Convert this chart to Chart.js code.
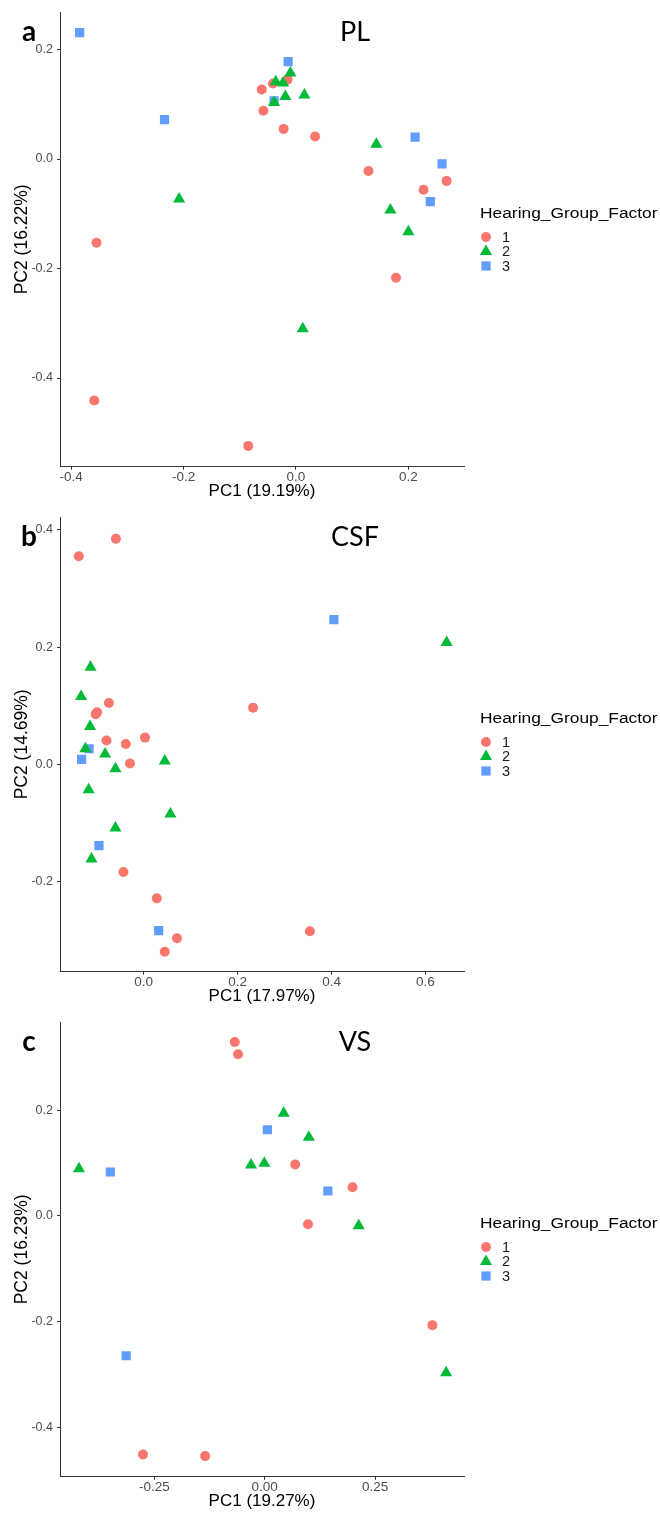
<!DOCTYPE html>
<html><head><meta charset="utf-8">
<script src="https://cdn.jsdelivr.net/npm/chart.js@4"></script>
<style>
html,body{margin:0;padding:0;background:#fff;overflow:hidden;width:660px;height:1513px;position:relative;}
.panel{position:absolute;left:0;width:660px;height:505px;}
canvas{display:block;}
</style></head><body>
<div class="panel" style="top:0px"><canvas id="cA" width="660" height="505"></canvas></div>
<div class="panel" style="top:505px"><canvas id="cB" width="660" height="505"></canvas></div>
<div class="panel" style="top:1010px"><canvas id="cC" width="660" height="505"></canvas></div>
<script>
// ---------- DATA ----------
const groupLabels = ['1', '2', '3'];
const legendTitle = 'Hearing_Group_Factor';

// Panel a: PL
const PL_g1_pc1 = [-0.061, -0.041, -0.015, -0.058, -0.022, 0.034, 0.129, 0.227, 0.268, -0.355, 0.178, -0.359, -0.085];
const PL_g1_pc2 = [0.127, 0.138, 0.145, 0.088, 0.055, 0.041, -0.022, -0.056, -0.040, -0.153, -0.217, -0.441, -0.524];
const PL_g2_pc1 = [-0.010, -0.036, -0.023, -0.019, 0.015, -0.039, 0.143, -0.208, 0.168, 0.200, 0.012];
const PL_g2_pc2 = [0.157, 0.141, 0.139, 0.114, 0.117, 0.103, 0.027, -0.073, -0.093, -0.133, -0.310];
const PL_g3_pc1 = [-0.385, -0.234, -0.014, -0.039, 0.212, 0.260, 0.239];
const PL_g3_pc2 = [0.231, 0.072, 0.178, 0.106, 0.040, -0.009, -0.078];
const PL_xTicks = [-0.4, -0.2, 0.0, 0.2];
const PL_xTickLabels = ['-0.4', '-0.2', '0.0', '0.2'];
const PL_yTicks = [-0.4, -0.2, 0.0, 0.2];
const PL_yTickLabels = ['-0.4', '-0.2', '0.0', '0.2'];

// Panel b: CSF
const CSF_g1_pc1 = [-0.138, -0.059, 0.233, -0.074, -0.102, -0.099, -0.079, -0.038, 0.003, -0.029, -0.043, 0.028, 0.071, 0.045, 0.354];
const CSF_g1_pc2 = [0.355, 0.385, 0.097, 0.105, 0.086, 0.089, 0.041, 0.035, 0.046, 0.002, -0.183, -0.228, -0.296, -0.319, -0.284];
const CSF_g2_pc1 = [-0.113, -0.133, -0.114, -0.124, -0.082, 0.045, -0.060, -0.117, 0.057, -0.060, -0.111, 0.645];
const CSF_g2_pc2 = [0.166, 0.116, 0.065, 0.027, 0.018, 0.006, -0.007, -0.043, -0.084, -0.108, -0.161, 0.208];
const CSF_g3_pc1 = [0.405, -0.116, -0.132, -0.095, 0.032];
const CSF_g3_pc2 = [0.247, 0.027, 0.009, -0.138, -0.283];
const CSF_xTicks = [0.0, 0.2, 0.4, 0.6];
const CSF_xTickLabels = ['0.0', '0.2', '0.4', '0.6'];
const CSF_yTicks = [-0.2, 0.0, 0.2, 0.4];
const CSF_yTickLabels = ['-0.2', '0.0', '0.2', '0.4'];

// Panel c: VS
const VS_g1_pc1 = [-0.068, -0.0605, 0.069, 0.199, 0.098, 0.380, -0.276, -0.135];
const VS_g1_pc2 = [0.329, 0.306, 0.097, 0.054, -0.016, -0.207, -0.452, -0.455];
const VS_g2_pc1 = [-0.421, 0.043, 0.100, -0.031, -0.001, 0.213, 0.411];
const VS_g2_pc2 = [0.089, 0.194, 0.149, 0.096, 0.0995, -0.019, -0.297];
const VS_g3_pc1 = [-0.350, 0.006, 0.143, -0.314];
const VS_g3_pc2 = [0.083, 0.163, 0.047, -0.265];
const VS_xTicks = [-0.25, 0.0, 0.25];
const VS_xTickLabels = ['-0.25', '0.00', '0.25'];
const VS_yTicks = [-0.4, -0.2, 0.0, 0.2];
const VS_yTickLabels = ['-0.4', '-0.2', '0.0', '0.2'];

// ---------- STYLE ----------
const RED = '#F8766D', GREEN = '#00BA38', BLUE = '#619CFF';
const SANS = '"Liberation Sans", Arial, sans-serif';

function pts(xs, ys) { return xs.map((x, i) => ({x: x, y: ys[i]})); }

function decorPlugin(letter, title) {
  return {
    id: 'decor',
    afterDraw(chart) {
      const ctx = chart.ctx;
      ctx.save();
      ctx.fillStyle = '#000';
      ctx.textBaseline = 'middle';
      ctx.textAlign = 'center';
      ctx.font = 'bold 28px Lato, "Open Sans", sans-serif';
      ctx.fillText(letter, 29, 32);
      ctx.font = '27px Lato, "Open Sans", sans-serif';
      ctx.fillText(title, 355, 32);
      // legend
      ctx.textAlign = 'left';
      ctx.save();
      ctx.translate(480, 214);
      ctx.scale(1.12, 1);
      ctx.font = '15.5px ' + SANS;
      ctx.fillStyle = '#000';
      ctx.fillText(legendTitle, 0, 0);
      ctx.restore();
      const lx = 486, ys = [237, 251.5, 266];
      ctx.fillStyle = RED;
      ctx.beginPath(); ctx.arc(lx, ys[0], 5, 0, Math.PI * 2); ctx.fill();
      ctx.fillStyle = GREEN;
      const r = 7;
      ctx.beginPath();
      ctx.moveTo(lx, ys[1] - r);
      ctx.lineTo(lx + r * Math.sin(2 * Math.PI / 3), ys[1] + r / 2);
      ctx.lineTo(lx - r * Math.sin(2 * Math.PI / 3), ys[1] + r / 2);
      ctx.closePath(); ctx.fill();
      ctx.fillStyle = BLUE;
      ctx.fillRect(lx - 4.6, ys[2] - 4.6, 9.2, 9.2);
      ctx.fillStyle = '#1a1a1a';
      ctx.font = '14.5px ' + SANS;
      groupLabels.forEach((lab, i) => ctx.fillText(lab, 502, ys[i] + 0.5));
      ctx.restore();
    }
  };
}

function makeChart(id, cfg) {
  new Chart(document.getElementById(id), {
    type: 'scatter',
    data: {
      datasets: [
        {label: groupLabels[0], data: pts(cfg.g1x, cfg.g1y), pointStyle: 'circle', pointRadius: 5,
         backgroundColor: RED, borderColor: RED, borderWidth: 0, order: 1},
        {label: groupLabels[1], data: pts(cfg.g2x, cfg.g2y), pointStyle: 'triangle', pointRadius: 7,
         backgroundColor: GREEN, borderColor: GREEN, borderWidth: 0, order: 0},
        {label: groupLabels[2], data: pts(cfg.g3x, cfg.g3y), pointStyle: 'rect', pointRadius: 6.5,
         backgroundColor: BLUE, borderColor: BLUE, borderWidth: 0, order: 2}
      ]
    },
    options: {
      responsive: false,
      animation: false,
      events: [],
      layout: {padding: {left: 0, top: 12, right: 196, bottom: 0}},
      plugins: {legend: {display: false}, tooltip: {enabled: false}},
      scales: {
        x: {
          type: 'linear', min: cfg.xMin, max: cfg.xMax,
          afterBuildTicks: s => { s.ticks = cfg.xTicks.map(v => ({value: v})); },
          afterFit: s => { s.height = 38.3; },
          grid: {display: true, drawOnChartArea: false, drawTicks: true, tickLength: 3, color: '#333', lineWidth: 1},
          border: {display: true, color: '#333', width: 1},
          ticks: {callback: (v, i) => cfg.xLabels[i], color: '#4D4D4D', font: {family: SANS, size: 13.5, lineHeight: 1.0},
                  padding: 1, maxRotation: 0, autoSkip: false},
          title: {display: true, text: cfg.xTitle, color: '#000', font: {family: SANS, size: 17, lineHeight: 1.0},
                  padding: {top: 0, bottom: 5}}
        },
        y: {
          type: 'linear', min: cfg.yMin, max: cfg.yMax,
          afterBuildTicks: s => { s.ticks = cfg.yTicks.map(v => ({value: v})); },
          afterFit: s => { s.width = 60; },
          grid: {display: true, drawOnChartArea: false, drawTicks: true, tickLength: 3, color: '#333', lineWidth: 1},
          border: {display: true, color: '#333', width: 1},
          ticks: {callback: (v, i) => cfg.yLabels[i], color: '#4D4D4D', font: {family: SANS, size: 12.5},
                  padding: 4, autoSkip: false},
          title: {display: true, text: cfg.yTitle, color: '#000', font: {family: SANS, size: 17.5},
                  padding: {top: 12, bottom: 0}}
        }
      }
    },
    plugins: [decorPlugin(cfg.letter, cfg.title)]
  });
}

makeChart('cA', {
  letter: 'a', title: 'PL',
  g1x: PL_g1_pc1, g1y: PL_g1_pc2, g2x: PL_g2_pc1, g2y: PL_g2_pc2, g3x: PL_g3_pc1, g3y: PL_g3_pc2,
  xMin: -0.420, xMax: 0.299, yMin: -0.562, yMax: 0.2685,
  xTicks: PL_xTicks, xLabels: PL_xTickLabels, yTicks: PL_yTicks, yLabels: PL_yTickLabels,
  xTitle: 'PC1 (19.19%)', yTitle: 'PC2 (16.22%)'
});
makeChart('cB', {
  letter: 'b', title: 'CSF',
  g1x: CSF_g1_pc1, g1y: CSF_g1_pc2, g2x: CSF_g2_pc1, g2y: CSF_g2_pc2, g3x: CSF_g3_pc1, g3y: CSF_g3_pc2,
  xMin: -0.178, xMax: 0.682, yMin: -0.353, yMax: 0.422,
  xTicks: CSF_xTicks, xLabels: CSF_xTickLabels, yTicks: CSF_yTicks, yLabels: CSF_yTickLabels,
  xTitle: 'PC1 (17.97%)', yTitle: 'PC2 (14.69%)'
});
makeChart('cC', {
  letter: 'c', title: 'VS',
  g1x: VS_g1_pc1, g1y: VS_g1_pc2, g2x: VS_g2_pc1, g2y: VS_g2_pc2, g3x: VS_g3_pc1, g3y: VS_g3_pc2,
  xMin: -0.464, xMax: 0.4516, yMin: -0.494, yMax: 0.367,
  xTicks: VS_xTicks, xLabels: VS_xTickLabels, yTicks: VS_yTicks, yLabels: VS_yTickLabels,
  xTitle: 'PC1 (19.27%)', yTitle: 'PC2 (16.23%)'
});
</script>
</body></html>
